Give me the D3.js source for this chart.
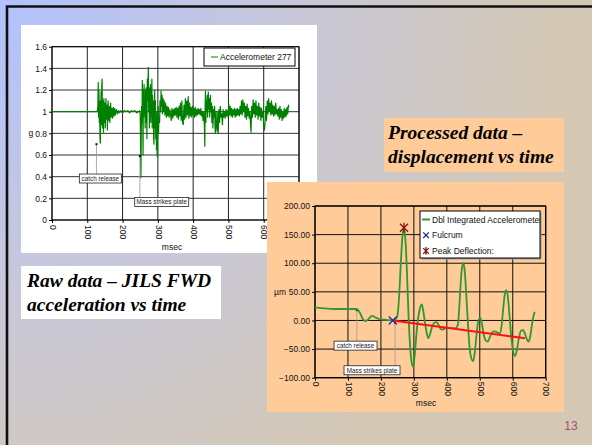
<!DOCTYPE html>
<html>
<head>
<meta charset="utf-8">
<script src="https://cdn.jsdelivr.net/npm/d3@7"></script>
<style>
  body { margin: 0; background: #fff; }
  svg { display: block; }
  text { font-family: "Liberation Sans", Arial, sans-serif; }
  .title { font-family: "Liberation Serif", "Times New Roman", serif; font-weight: bold; font-style: italic; font-size: 19.5px; fill: #000; }
</style>
</head>
<body>
<div id="slide"></div>
<script>
// ---- raw accelerometer (msec, g) ----
var accelPoints = [
  [0,1.0],[20,1.0],[50,1.0],[75,1.0],[100,1.0],[128,1.0],
  [130,1.05],[131,1.27],[132,0.95],[133,1.2],[134,0.9],[135,1.1],[136,0.75],[137,0.71],[138,1.0],[139,1.18],
  [140,0.88],[141,1.25],[142,1.30],[143,0.85],[144,1.1],[145,0.92],[146,0.81],[147,1.12],[148,0.9],[150,1.08],
  [151,0.85],[153,1.12],[154,0.93],[156,1.06],[157,0.83],[159,1.1],[161,0.92],[162,1.05],[164,0.9],[166,1.08],
  [168,0.95],[170,1.03],[172,0.94],[174,1.04],[176,0.96],[178,1.03],[180,0.97],[183,1.02],[186,0.98],[189,1.01],
  [192,0.99],[195,1.01],[200,0.99],[205,1.01],[210,1.0],[215,1.01],[220,0.99],[225,1.01],[230,1.0],[235,1.01],
  [240,0.99],[245,1.0],[248,1.01],
  [250,0.98],[251,0.7],[252,0.39],[253,0.8],[254,1.05],[255,0.9],[256,1.29],[257,1.1],[258,0.6],[259,1.2],
  [260,0.95],[261,1.25],[262,1.0],[263,1.15],[264,0.85],[265,1.2],[266,0.9],[267,1.22],[268,1.05],[269,0.75],
  [270,1.3],[271,1.1],[272,1.25],[273,1.41],[274,1.0],[275,1.2],[276,0.85],[277,1.22],[278,0.95],[279,1.25],
  [280,0.9],[281,1.2],[282,1.0],[283,1.3],[284,0.85],[285,1.15],[286,0.9],[287,1.1],[288,0.75],[289,0.7],
  [290,1.0],[291,1.2],[292,0.85],[293,1.1],[294,0.75],[295,0.95],[296,0.65],[297,1.0],[298,0.6],[299,0.58],
  [300,0.85],[301,1.05],[302,0.8],[303,0.95],[305,0.9],[306,1.1],[308,1.0],[309,1.19],[310,1.05],[312,1.15],
  [313,0.98],[315,1.12],[317,1.0],[318,1.1],[320,0.97],[322,1.08],[324,0.95],[326,1.05],[328,0.96],[330,1.04],
  [332,0.95],[334,1.02],[336,0.97],[338,0.92],[340,1.03],[342,0.94],[344,1.02],[346,0.96],[348,1.03],[350,0.97],
  [352,1.04],[354,0.95],[356,1.03],[358,0.93],[360,1.05],[362,0.96],[364,1.08],[366,0.92],[368,1.1],[370,0.9],
  [372,0.88],[374,1.06],[376,0.93],[378,1.12],[380,0.95],[382,1.1],[384,0.97],[386,1.14],[388,0.94],[390,1.08],
  [392,0.96],[394,1.04],[396,0.95],[398,1.05],[400,0.97],[402,1.03],[404,0.95],[406,1.04],[408,0.96],[410,1.02],
  [412,0.97],[414,1.03],[416,0.98],[418,1.02],[420,0.97],[422,1.03],[424,0.96],[426,1.0],[428,0.92],[430,1.0],
  [432,0.85],[433,0.68],[434,1.05],[435,1.19],[436,0.9],[437,1.1],[438,1.0],[440,1.15],[441,0.95],[443,1.18],
  [444,1.02],[446,1.12],[447,0.95],[449,1.15],[450,1.0],[452,1.08],[453,0.9],[455,1.05],[456,0.85],[458,1.02],
  [459,0.95],[461,1.05],[462,0.85],[463,0.8],[465,1.0],[466,0.88],[468,0.82],[470,1.0],[471,0.8],[473,1.02],
  [475,0.9],[477,1.05],[479,0.95],[481,0.98],[483,0.88],[485,1.02],[487,0.95],[489,1.0],[491,0.94],[493,1.02],
  [495,0.96],[497,1.01],[499,0.95],[501,1.07],[503,0.97],[505,1.05],[507,0.96],[509,1.03],[511,0.95],[513,1.02],
  [515,0.97],[517,1.03],[519,0.95],[521,1.02],[523,0.96],[525,1.03],[527,0.97],[529,1.02],[531,0.96],[533,1.05],
  [535,0.98],[537,1.1],[539,0.97],[541,1.11],[543,1.0],[545,1.08],[547,0.95],[549,1.05],[551,0.93],[553,1.07],
  [555,0.96],[557,1.03],[559,0.94],[561,1.0],[563,0.86],[564,0.81],[566,1.05],[568,0.95],[570,1.11],[572,0.98],
  [574,1.08],[576,0.95],[578,1.1],[580,0.97],[582,1.05],[584,0.93],[586,1.08],[588,0.96],[590,1.04],[592,0.92],
  [594,1.03],[596,0.95],[598,1.0],[600,0.86],[602,0.83],[604,0.9],[606,1.05],[608,0.92],[610,1.1],[612,0.98],
  [614,1.12],[616,1.0],[618,1.08],[620,0.97],[622,1.1],[624,0.98],[626,1.06],[628,0.96],[630,1.05],[632,0.97],
  [634,1.08],[636,0.98],[638,1.02],[640,0.96],[642,1.03],[644,0.93],[646,1.05],[648,0.95],[650,1.02],[652,0.92],
  [654,1.0],[656,0.94],[658,1.03],[660,0.95],[662,1.02],[664,0.96],[666,1.04],[668,0.98],[670,1.06],[671,1.04]
];
var accelTicksY = ["0","0.2","0.4","0.6","0.8","1","1.2","1.4","1.6"];
var accelTickValuesY = [0,0.2,0.4,0.6,0.8,1.0,1.2,1.4,1.6];
var msecTicks = [0,100,200,300,400,500,600,700];
var accelNotes = [
  {label: "catch release", at: [126, 0.70], box: [137, 0.383], w: 42},
  {label: "Mass strikes plate", at: [249, 0.59], box: [311, 0.166], w: 54}
];

// ---- double integrated displacement (msec, um) ----
var dispPoints = [
  [0,23],[30,21],[60,20],[100,20],[126,20],[135,15],[145,3],[152,-1],[160,1],[173,8],[185,5],[197,2],
  [215,1],[236,0],[245,2],[250,8],[255,40],[260,95],[265,145],[270,162],[275,135],[279,85],[283,20],
  [288,-40],[293,-72],[298,-81],[303,-58],[308,-22],[312,0],[318,20],[324,28],[329,15],[334,-5],[339,-22],
  [344,-31],[350,-22],[356,-10],[362,-4],[369,-3],[375,-8],[381,-15],[387,-16],[395,-14],[410,-13],
  [425,-14],[430,-12],[434,-6],[438,25],[442,65],[446,92],[450,100],[454,88],[458,55],[463,5],[468,-40],
  [473,-63],[480,-71],[485,-55],[490,-25],[496,0],[502,4],[507,-8],[512,-25],[518,-35],[524,-37],
  [530,-30],[536,-22],[542,-19],[550,-20],[557,-22],[562,-22],[567,-5],[571,20],[575,42],[580,53],
  [585,42],[590,10],[595,-25],[600,-50],[607,-62],[613,-50],[619,-30],[625,-18],[632,-17],[638,-25],
  [643,-33],[648,-37],[653,-28],[658,-8],[663,8],[667,15]
];
var fulcrumPoint = [236, 0];
var peakPoint = [270, 162];
var trendLine = [[236, 0], [637, -31]];
var dispTickValuesY = [-100,-50,0,50,100,150,200];
var legendItems = ["Dbl Integrated Accelerometer", "Fulcrum", "Peak Deflection:"];
var dispNotes = [
  {label: "catch release", at: [127, 18], box: [123, -44], w: 43},
  {label: "Mass strikes plate", at: [243, -4], box: [173, -87], w: 56}
];

var W = 592, H = 445;
var svg = d3.select("#slide").append("svg").attr("width", W).attr("height", H);

// slide background
var defs = svg.append("defs");
var grad = defs.append("radialGradient").attr("id", "bg")
  .attr("gradientUnits", "userSpaceOnUse").attr("cx", 0).attr("cy", 0).attr("r", 560);
grad.append("stop").attr("offset", 0).attr("stop-color", "#b2c2fe");
grad.append("stop").attr("offset", 0.55).attr("stop-color", "#c9c8d8");
grad.append("stop").attr("offset", 1).attr("stop-color", "#d4c8b4");
svg.append("rect").attr("width", W).attr("height", H).attr("fill", "url(#bg)");
svg.append("path").attr("d", "M7," + H + "V6.5H" + W)
  .attr("fill", "none").attr("stroke", "#111").attr("stroke-width", 2.6);

// ===== chart 1 : raw acceleration =====
svg.append("rect").attr("x", 21).attr("y", 25).attr("width", 296).attr("height", 228).attr("fill", "#fff");
var c1 = svg.append("g");
var x1 = d3.scaleLinear().domain([0, 700]).range([52, 299]);
var y1 = d3.scaleLinear().domain([0, 1.6]).range([220, 46.7]);

c1.selectAll(".hg").data(accelTickValuesY).enter().append("line")
  .attr("x1", x1(0)).attr("x2", x1(700)).attr("y1", d => y1(d)).attr("y2", d => y1(d))
  .attr("stroke", "#333").attr("stroke-width", 1);
c1.selectAll(".vg").data(msecTicks).enter().append("line")
  .attr("x1", d => x1(d)).attr("x2", d => x1(d)).attr("y1", y1(0)).attr("y2", y1(1.6))
  .attr("stroke", "#222").attr("stroke-width", 1);
c1.append("rect").attr("x", x1(0)).attr("y", y1(1.6)).attr("width", x1(700) - x1(0)).attr("height", y1(0) - y1(1.6))
  .attr("fill", "none").attr("stroke", "#000").attr("stroke-width", 1);

var ay1 = c1.append("g").attr("transform", "translate(" + x1(0) + ",0)")
  .call(d3.axisLeft(y1).tickValues(accelTickValuesY).tickFormat((d, i) => accelTicksY[i]).tickSize(3).tickPadding(2));
ay1.select(".domain").remove();
ay1.selectAll("text").attr("font-size", 8.5).attr("fill", "#111").attr("font-family", "Liberation Sans");
c1.append("text").attr("x", 28.5).attr("y", y1(0.8) + 3).attr("font-size", 8.5).attr("fill", "#111").text("g");

var ax1 = c1.append("g").attr("transform", "translate(0," + y1(0) + ")")
  .call(d3.axisBottom(x1).tickValues(msecTicks).tickSize(3).tickFormat(d3.format("d")));
ax1.select(".domain").remove();
ax1.selectAll("text").attr("font-size", 8.5).attr("fill", "#111").attr("font-family", "Liberation Sans")
  .attr("text-anchor", "start").attr("dy", "0.32em").attr("x", 0).attr("y", 0)
  .attr("transform", "translate(0,5) rotate(90)");
c1.append("text").attr("x", 172).attr("y", 250).attr("text-anchor", "middle").attr("font-size", 8.5).attr("fill", "#111").text("msec");

var line1 = d3.line().x(d => x1(d[0])).y(d => y1(d[1]));
c1.append("path").datum(accelPoints).attr("d", line1)
  .attr("fill", "none").attr("stroke", "#008000").attr("stroke-width", 1.2).attr("stroke-linejoin", "round");

// legend chart 1
c1.append("rect").attr("x", 204).attr("y", 48).attr("width", 91).attr("height", 18)
  .attr("fill", "#fff").attr("stroke", "#000").attr("stroke-width", 1);
c1.append("line").attr("x1", 211).attr("x2", 218).attr("y1", 57).attr("y2", 57).attr("stroke", "#008000").attr("stroke-width", 1);
c1.append("text").attr("x", 220).attr("y", 60).attr("font-size", 8.5).attr("fill", "#111").text("Accelerometer 277");

function notes(g, list, xs, ys) {
  list.forEach(function(n) {
    var px = xs(n.at[0]), py = ys(n.at[1]), bx = xs(n.box[0]), by = ys(n.box[1]);
    g.append("line").attr("x1", px).attr("x2", px).attr("y1", py).attr("y2", by - 4.5)
      .attr("stroke", "#999").attr("stroke-width", 0.8);
    g.append("rect").attr("x", px - 1).attr("y", py - 1).attr("width", 2).attr("height", 2).attr("fill", "#111");
    g.append("rect").attr("x", bx - n.w / 2).attr("y", by - 4.5).attr("width", n.w).attr("height", 9)
      .attr("fill", "#fff").attr("stroke", "#222").attr("stroke-width", 0.8);
    g.append("text").attr("x", bx).attr("y", by + 2.3).attr("text-anchor", "middle")
      .attr("font-size", 6.3).attr("fill", "#222").text(n.label);
  });
}
notes(c1, accelNotes, x1, y1);

// title boxes
svg.append("rect").attr("x", 21).attr("y", 266).attr("width", 200).attr("height", 53).attr("fill", "#fff");
svg.append("text").attr("class", "title").attr("x", 27).attr("y", 287).attr("font-size", 20.5).text("Raw data \u2013 JILS FWD");
svg.append("text").attr("class", "title").attr("x", 27).attr("y", 311).attr("font-size", 20.5).text("acceleration vs time");

svg.append("rect").attr("x", 384).attr("y", 118).attr("width", 180).attr("height", 54).attr("fill", "#ffcc99");
svg.append("text").attr("class", "title").attr("x", 388).attr("y", 139).text("Processed data \u2013");
svg.append("text").attr("class", "title").attr("x", 388).attr("y", 163).text("displacement vs time");

// ===== chart 2 : displacement =====
svg.append("rect").attr("x", 267).attr("y", 182).attr("width", 297).attr("height", 230).attr("fill", "#ffcc99");
var c2 = svg.append("g");
var x2 = d3.scaleLinear().domain([0, 700]).range([315, 545.7]);
var y2 = d3.scaleLinear().domain([-100, 200]).range([377.7, 206]);

c2.selectAll(".hg").data(dispTickValuesY).enter().append("line")
  .attr("x1", x2(0)).attr("x2", x2(700)).attr("y1", d => y2(d)).attr("y2", d => y2(d))
  .attr("stroke", "#111").attr("stroke-width", 1);
c2.selectAll(".vg").data(msecTicks).enter().append("line")
  .attr("x1", d => x2(d)).attr("x2", d => x2(d)).attr("y1", y2(-100)).attr("y2", y2(200))
  .attr("stroke", "#111").attr("stroke-width", 1);
c2.append("rect").attr("x", x2(0)).attr("y", y2(200)).attr("width", x2(700) - x2(0)).attr("height", y2(-100) - y2(200))
  .attr("fill", "none").attr("stroke", "#000").attr("stroke-width", 1.2);

var ay2 = c2.append("g").attr("transform", "translate(" + x2(0) + ",0)")
  .call(d3.axisLeft(y2).tickValues(dispTickValuesY).tickFormat(d3.format(".2f")).tickSize(3).tickPadding(2));
ay2.select(".domain").remove();
ay2.selectAll("text").attr("font-size", 8.5).attr("fill", "#111").attr("font-family", "Liberation Sans");
c2.append("text").attr("x", 274).attr("y", y2(50) + 3).attr("font-size", 8.5).attr("fill", "#111").text("\u00b5m");

var ax2 = c2.append("g").attr("transform", "translate(0," + y2(-100) + ")")
  .call(d3.axisBottom(x2).tickValues(msecTicks).tickSize(3).tickFormat(d3.format("d")));
ax2.select(".domain").remove();
ax2.selectAll("text").attr("font-size", 8.5).attr("fill", "#111").attr("font-family", "Liberation Sans")
  .attr("text-anchor", "start").attr("dy", "0.32em").attr("x", 0).attr("y", 0)
  .attr("transform", "translate(0,4) rotate(90)");
c2.append("text").attr("x", 426).attr("y", 406).attr("text-anchor", "middle").attr("font-size", 8.5).attr("fill", "#111").text("msec");

notes(c2, dispNotes, x2, y2);

var line2 = d3.line().x(d => x2(d[0])).y(d => y2(d[1])).curve(d3.curveMonotoneX);
c2.append("path").datum(dispPoints).attr("d", line2)
  .attr("fill", "none").attr("stroke", "#2e9a2e").attr("stroke-width", 1.8);
c2.append("path").datum(trendLine).attr("d", d3.line().x(d => x2(d[0])).y(d => y2(d[1])))
  .attr("stroke", "#ff1010").attr("stroke-width", 2);

function xMark(g, cx, cy, r, col, star) {
  g.append("path").attr("d", "M" + (cx - r) + "," + (cy - r) + "L" + (cx + r) + "," + (cy + r) +
    "M" + (cx - r) + "," + (cy + r) + "L" + (cx + r) + "," + (cy - r) +
    (star ? "M" + cx + "," + (cy - r - 1) + "V" + (cy + r + 1) : ""))
    .attr("stroke", col).attr("stroke-width", 1.3).attr("fill", "none");
}
xMark(c2, x2(fulcrumPoint[0]), y2(fulcrumPoint[1]), 4, "#2a2aa0", false);
xMark(c2, x2(peakPoint[0]), y2(peakPoint[1]), 4, "#8b1414", true);

// legend chart 2
defs.append("clipPath").attr("id", "legclip").append("rect")
  .attr("x", 420).attr("y", 211).attr("width", 120).attr("height", 47);
c2.append("rect").attr("x", 421.5).attr("y", 212.5).attr("width", 120).attr("height", 47).attr("fill", "#999");
c2.append("rect").attr("x", 420).attr("y", 211).attr("width", 120).attr("height", 47)
  .attr("fill", "#fff").attr("stroke", "#000").attr("stroke-width", 1);
var lg = c2.append("g").attr("clip-path", "url(#legclip)");
legendItems.forEach(function(t, i) {
  var yy = 219.5 + i * 15.7;
  lg.append("text").attr("x", 432).attr("y", yy + 3).attr("font-size", 8.5).attr("fill", "#111").text(t);
});
lg.append("line").attr("x1", 422).attr("x2", 430).attr("y1", 219.5).attr("y2", 219.5).attr("stroke", "#2e9a2e").attr("stroke-width", 2);
xMark(lg, 426, 235.2, 2.8, "#2a2aa0", false);
xMark(lg, 426, 250.9, 2.8, "#8b1414", true);

// page number
svg.append("text").attr("x", 571).attr("y", 430).attr("text-anchor", "middle")
  .attr("font-family", "Liberation Serif").attr("font-size", 12).attr("fill", "#a0507a").text("13");
</script>
</body>
</html>
